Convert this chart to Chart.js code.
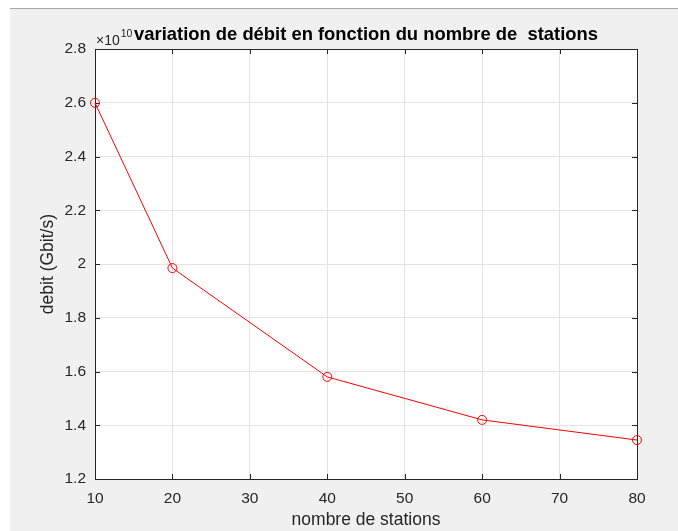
<!DOCTYPE html>
<html>
<head>
<meta charset="utf-8">
<script src="https://cdn.jsdelivr.net/npm/chart.js@4.4.0/dist/chart.umd.min.js"></script>
<style>
  body { margin: 0; background: #ffffff; }
  #fig { position: absolute; left: 10px; top: 8px; width: 668px; height: 522px; background: #f0f0f0; border-top: 1px solid #a8a8a8; }
  #myChart { position: absolute; left: 0; top: 0; }
</style>
</head>
<body>
<div id="fig"></div>
<canvas id="myChart" width="678" height="531"></canvas>
<script>
// values (debit in bit/s, axis shows x 1e10)
var stations = [10, 20, 40, 60, 80];
var debit = [2.6e10, 1.985e10, 1.58e10, 1.42e10, 1.345e10];
var xTicks = [10, 20, 30, 40, 50, 60, 70, 80];
var yTicks = [1.2, 1.4, 1.6, 1.8, 2, 2.2, 2.4, 2.6, 2.8]; // x 1e10
var expo = 1e10;

var axisColor = '#262626';
var gridColor = '#e3e3e3';
var fam = 'Liberation Sans, Arial, sans-serif';
var tickFont = { family: fam, size: 15.5 };
var labelFont = { family: fam, size: 17.5 };

var points = [];
stations.forEach(function (s, i) {
   points.push({ x: s, y: debit[i] });
});

// white plot area, box with inward ticks, exponent label
var matlabAxes = {
   id: 'matlabAxes',
   beforeDraw: function (chart) {
      var a = chart.chartArea;
      var ctx = chart.ctx;
      ctx.save();
      ctx.fillStyle = '#ffffff';
      ctx.fillRect(a.left, a.top, a.right - a.left, a.bottom - a.top);
      ctx.restore();
   },
   beforeDatasetsDraw: function (chart) {
      var a = chart.chartArea;
      var ctx = chart.ctx;
      var xs = chart.scales.x;
      var ys = chart.scales.y;
      var len = 5;
      ctx.save();
      ctx.strokeStyle = axisColor;
      ctx.lineWidth = 1;
      ctx.beginPath();
      xTicks.forEach(function (t) {
         var px = Math.round(xs.getPixelForValue(t)) + 0.5;
         ctx.moveTo(px, a.bottom); ctx.lineTo(px, a.bottom - len);
         ctx.moveTo(px, a.top); ctx.lineTo(px, a.top + len);
      });
      yTicks.forEach(function (t) {
         var py = Math.round(ys.getPixelForValue(t * expo)) + 0.5;
         ctx.moveTo(a.left, py); ctx.lineTo(a.left + len, py);
         ctx.moveTo(a.right, py); ctx.lineTo(a.right - len, py);
      });
      ctx.stroke();
      ctx.strokeRect(Math.round(a.left) + 0.5, Math.round(a.top) + 0.5,
         Math.round(a.right - a.left), Math.round(a.bottom - a.top));
      ctx.restore();
   },
   afterDraw: function (chart) {
      var a = chart.chartArea;
      var ctx = chart.ctx;
      ctx.save();
      ctx.fillStyle = axisColor;
      ctx.textBaseline = 'alphabetic';
      ctx.font = '14px ' + fam;
      ctx.fillText('\u00d710', a.left + 1, a.top - 4);
      var w = ctx.measureText('\u00d710').width;
      ctx.font = '10.5px ' + fam;
      ctx.fillText('10', a.left + 2 + w, a.top - 12);
      ctx.restore();
   }
};

var ctx = document.getElementById('myChart').getContext('2d');
var myChart = new Chart(ctx, {
   type: 'line',
   data: {
      datasets: [{
         label: 'debit',
         data: points,
         borderColor: '#ff0000',
         backgroundColor: 'rgba(0,0,0,0)',
         borderWidth: 1,
         pointStyle: 'circle',
         pointRadius: 4.5,
         pointBorderWidth: 1,
         pointBorderColor: '#ff0000',
         pointBackgroundColor: 'rgba(0,0,0,0)',
         tension: 0,
         clip: false
      }]
   },
   plugins: [matlabAxes],
   options: {
      responsive: false,
      animation: false,
      layout: { padding: { left: 0, right: 41, top: 0, bottom: 0 } },
      plugins: {
         legend: { display: false },
         tooltip: { enabled: false },
         title: {
            display: true,
            text: 'variation de d\u00e9bit en fonction du nombre de  stations',
            fullSize: false,
            color: '#000000',
            font: { family: fam, size: 18.4, weight: 'bold' },
            padding: { top: 24, bottom: 3 }
         }
      },
      scales: {
         x: {
            type: 'linear',
            min: 10,
            max: 80,
            afterBuildTicks: function (scale) {
               scale.ticks = xTicks.map(function (v) { return { value: v }; });
            },
            afterFit: function (scale) { scale.height = 52; },
            grid: { color: gridColor, drawTicks: false, tickLength: 0 },
            border: { display: false },
            ticks: { color: axisColor, font: tickFont, padding: 10, maxRotation: 0 },
            title: {
               display: true,
               text: 'nombre de stations',
               color: axisColor,
               font: labelFont,
               padding: { top: 0, bottom: 0 }
            }
         },
         y: {
            type: 'linear',
            min: 1.2e10,
            max: 2.8e10,
            afterBuildTicks: function (scale) {
               scale.ticks = yTicks.map(function (v) { return { value: v * expo }; });
            },
            afterFit: function (scale) { scale.width = 95; },
            grid: { color: gridColor, drawTicks: false, tickLength: 0 },
            border: { display: false },
            ticks: {
               color: axisColor,
               font: tickFont,
               padding: 9,
               callback: function (v) { return String(parseFloat((v / expo).toFixed(1))); }
            },
            title: {
               display: true,
               text: 'debit (Gbit/s)',
               color: axisColor,
               font: labelFont,
               padding: { top: 38, bottom: 0 }
            }
         }
      }
   }
});
</script>
</body>
</html>
